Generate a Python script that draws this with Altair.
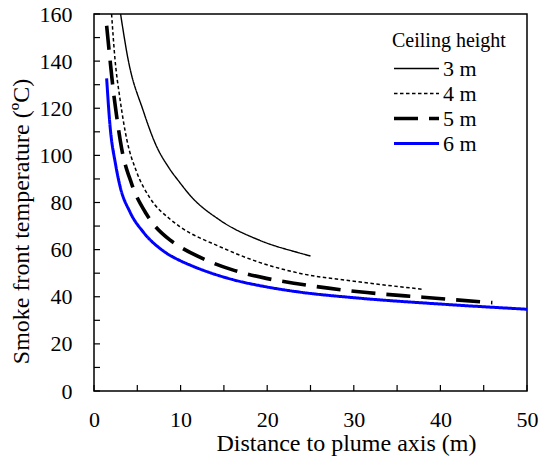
import altair as alt
import pandas as pd

# Ceiling-height series: distance to plume axis (m) and smoke front temperature (ºC)
heights = ["3 m", "4 m", "5 m", "6 m"]

dist_3m = [3.07, 3.95, 5.68, 7.2, 8.6, 9.9, 11.1, 14.5, 19.1, 23.7, 25.0]
temp_3m = [160, 140.5, 119, 104, 95, 88.5, 83, 72.6, 64, 58.6, 57.3]

dist_4m = [2.03, 2.42, 3.0, 3.77, 4.92, 6.45, 8.76, 9.9, 14.5, 19.1, 23.7, 30.0, 37.9]
temp_4m = [160, 141, 124, 107, 93, 82, 73, 69.8, 61.3, 54.6, 50.0, 46.6, 43.2]

dist_5m = [1.46, 1.84, 2.15, 2.6, 3.19, 4.34, 6.07, 8.76, 9.9, 13.0, 16.0, 19.9, 23.5, 30.6, 38.0, 46.0]
temp_5m = [155, 141, 130, 117, 103, 88, 75, 64.1, 61.3, 55.5, 51.4, 47.8, 45.5, 42.1, 39.8, 37.5]

dist_6m = [1.46, 1.84, 2.5, 3.0, 4.15, 5.68, 7.98, 9.9, 11.06, 16.0, 19.9, 23.7, 30.0, 40.0, 50.0]
temp_6m = [132.7, 113, 96, 87, 76, 67.5, 59.5, 55.4, 53.5, 47.3, 44.2, 42.0, 39.6, 36.9, 34.7]

# Axis labels and tick positions
x_labels = [0, 10, 20, 30, 40, 50]
y_labels = [0, 20, 40, 60, 80, 100, 120, 140, 160]
x_ticks = [0, 5, 10, 15, 20, 25, 30, 35, 40, 45, 50]
y_ticks = [0, 10, 20, 30, 40, 50, 60, 70, 80, 90, 100, 110, 120, 130, 140, 150, 160]

FONT = "Liberation Serif"
W, H = 433, 377

rows = []
for h, xs, ts in zip(heights, [dist_3m, dist_4m, dist_5m, dist_6m],
                     [temp_3m, temp_4m, temp_5m, temp_6m]):
    for i, (x, t) in enumerate(zip(xs, ts)):
        rows.append({"height": h, "dist": x, "temp": t, "pt": i})
df = pd.DataFrame(rows)

x_scale = alt.Scale(domain=[0, 50], nice=False, zero=False)
y_scale = alt.Scale(domain=[0, 160], nice=False)

axis_style = dict(labelFont=FONT, labelFontSize=22, labelColor="black",
                  titleFont=FONT, titleFontSize=24, titleColor="black",
                  titleFontWeight="normal", ticks=False, domain=False, grid=False,
                  labelFlush=False, labelOverlap=False)

x_axis = alt.Axis(values=x_labels, title="Distance to plume axis (m)",
                  titleX=252, titleY=59, titleBaseline="alphabetic",
                  titleAlign="center", labelPadding=18, **axis_style)
y_axis = alt.Axis(values=y_labels, title="Smoke front temperature (ºC)",
                  titleX=-66, titleY=207, titleAngle=270,
                  titleBaseline="alphabetic", titleAlign="center",
                  labelPadding=22, **axis_style)

legend = alt.Legend(
    orient="none", legendX=298, legendY=17,
    symbolType="stroke", symbolSize=2025, clipHeight=25,
    titleFont=FONT, titleFontSize=20, titleFontWeight="normal", titleColor="black",
    labelFont=FONT, labelFontSize=22, labelColor="black",
    labelOffset=2, rowPadding=0, titlePadding=5, padding=0,
)

lines = alt.Chart(df).mark_line(interpolate="monotone").encode(
    x=alt.X("dist:Q", scale=x_scale, axis=x_axis),
    y=alt.Y("temp:Q", scale=y_scale, axis=y_axis),
    color=alt.Color("height:N", title="Ceiling height", legend=legend,
                    scale=alt.Scale(type="ordinal", domain=heights,
                                    range=["#000000", "#000000", "#000000", "#0000FF"])),
    strokeDash=alt.StrokeDash("height:N", title="Ceiling height", legend=legend,
                              scale=alt.Scale(type="ordinal", domain=heights,
                                              range=[[1, 0], [3.5, 2.5], [24, 11], [1, 0]])),
    strokeWidth=alt.StrokeWidth("height:N", title="Ceiling height", legend=legend,
                                scale=alt.Scale(type="ordinal", domain=heights,
                                                range=[1.4, 1.5, 3.6, 3.0])),
    order=alt.Order("pt:Q"),
)

# Inward tick marks on the left and bottom edges
yticks = alt.Chart(pd.DataFrame({"temp": y_ticks})).mark_rule(
    color="black", strokeWidth=1.2
).encode(
    y=alt.Y("temp:Q", scale=y_scale, axis=y_axis),
    x=alt.value(0), x2=alt.value(6),
)

xticks = alt.Chart(pd.DataFrame({"dist": x_ticks})).mark_rule(
    color="black", strokeWidth=1.2
).encode(
    x=alt.X("dist:Q", scale=x_scale, axis=x_axis),
    y=alt.value(H), y2=alt.value(H - 6),
)

chart = alt.layer(lines, yticks, xticks).properties(
    width=W, height=H,
    autosize=alt.AutoSizeParams(type="none"),
    padding={"left": 94, "top": 14, "right": 12, "bottom": 74},
    background="white",
).configure(
    font=FONT,
).configure_view(
    stroke="black", strokeWidth=1.5,
)

chart.save("out.html", embed_options={"renderer": "svg", "actions": False})
